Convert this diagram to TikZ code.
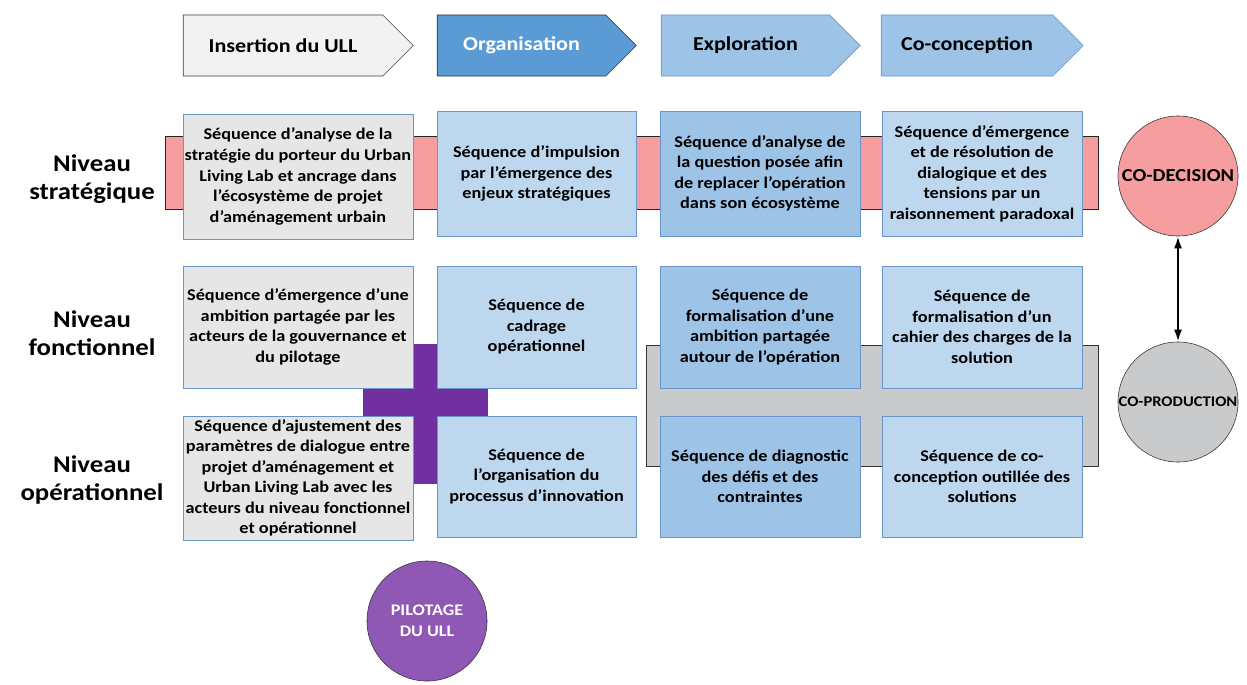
\documentclass[tikz,border=0pt]{standalone}
\usepackage{fontspec}
\setmainfont{Carlito}[FakeStretch=1.12]
\usepackage{xcolor}
\usetikzlibrary{shapes.symbols,arrows.meta}

\definecolor{phasegrey}{HTML}{F2F2F2}
\definecolor{phasedark}{HTML}{5B9BD5}
\definecolor{phaselight}{HTML}{9DC3E6}
\definecolor{boxgrey}{HTML}{E7E6E6}
\definecolor{boxlight}{HTML}{BDD7EE}
\definecolor{boxmid}{HTML}{9DC3E6}
\definecolor{boxline}{HTML}{6A95C8}
\definecolor{strategypink}{HTML}{F59D9F}
\definecolor{productiongrey}{HTML}{C9CACC}
\definecolor{pilotpurple}{HTML}{7030A0}
\definecolor{pilotcircle}{HTML}{8E58B4}

\begin{document}
\begin{tikzpicture}[
  x=0.025cm, y=-0.025cm,
  every node/.style={align=center, inner sep=2pt},
  phase/.style={
    signal,
    signal to=east,
    signal pointer angle=90,
    draw=black!75,
    fill=phasegrey,
    minimum height=1.525cm,
    font=\fontsize{14}{17}\selectfont\bfseries
  },
  seqbox/.style={
    rectangle,
    draw=boxline,
    fill=boxlight,
    inner sep=1pt,
    font=\fontsize{11.6}{14.6}\selectfont\bfseries
  },
  niveau/.style={font=\fontsize{17}{19.8}\selectfont\bfseries},
  pole/.style={circle, draw=black!80, minimum size=3cm, inner sep=0pt, font=\bfseries}
]
\useasboundingbox (0,0) rectangle (1247,684);

\draw[black!85, fill=strategypink] (165,136) rectangle (1098,209);
\draw[black!80, fill=productiongrey] (646,345) rectangle (1098,466);
\fill[pilotpurple] (363,344) rectangle (488,484);

\node[phase, minimum width=5.75cm] (insertion) at (283,45.5) {Insertion du ULL};
\node[phase, minimum width=4.975cm, fill=phasedark, draw=black!80, text=white] (organisation) at (521.5,45.5) {Organisation};
\node[phase, minimum width=4.975cm, fill=phaselight, draw=boxline] (exploration) at (745.5,45.5) {Exploration};
\node[phase, minimum width=5.05cm, fill=phaselight, draw=boxline] (coconception) at (967,45.5) {Co-conception};

\node[niveau] (nstrat) at (92,179) {Niveau\\stratégique};
\node[niveau] (nfonc) at (92,333) {Niveau\\fonctionnel};
\node[niveau] (nop) at (92,480) {Niveau\\opérationnel};

\node[seqbox, fill=boxgrey, minimum width=5.75cm, minimum height=3.125cm] (s1) at (298,176.5)
  {Séquence d’analyse de la\\stratégie du porteur du Urban\\Living Lab et ancrage dans\\l’écosystème de projet\\d’aménagement urbain};
\node[seqbox, minimum width=4.975cm, minimum height=3.125cm] (s2) at (536.5,173.5)
  {Séquence d’impulsion\\par l’émergence des\\enjeux stratégiques};
\node[seqbox, fill=boxmid, minimum width=5cm, minimum height=3.125cm] (s3) at (760,173.5)
  {Séquence d’analyse de\\la question posée afin\\de replacer l’opération\\dans son écosystème};
\node[seqbox, minimum width=5cm, minimum height=3.125cm] (s4) at (982,173.5)
  {Séquence d’émergence\\et de résolution de\\dialogique et des\\tensions par un\\raisonnement paradoxal};

\node[seqbox, fill=boxgrey, minimum width=5.75cm, minimum height=3.05cm] (f1) at (298,327)
  {Séquence d’émergence d’une\\ambition partagée par les\\acteurs de la gouvernance et\\du pilotage};
\node[seqbox, minimum width=4.975cm, minimum height=3.05cm] (f2) at (536.5,327)
  {Séquence de\\cadrage\\opérationnel};
\node[seqbox, fill=boxmid, minimum width=5cm, minimum height=3.05cm] (f3) at (760,327)
  {Séquence de\\formalisation d’une\\ambition partagée\\autour de l’opération};
\node[seqbox, minimum width=5cm, minimum height=3.05cm] (f4) at (982,327)
  {Séquence de\\formalisation d’un\\cahier des charges de la\\solution};

\node[seqbox, fill=boxgrey, minimum width=5.75cm, minimum height=3.1cm] (o1) at (298,478)
  {Séquence d’ajustement des\\paramètres de dialogue entre\\projet d’aménagement et\\Urban Living Lab avec les\\acteurs du niveau fonctionnel\\et opérationnel};
\node[seqbox, minimum width=4.975cm, minimum height=3.025cm] (o2) at (536.5,476.5)
  {Séquence de\\l’organisation du\\processus d’innovation};
\node[seqbox, fill=boxmid, minimum width=5cm, minimum height=3.025cm] (o3) at (760,476.5)
  {Séquence de diagnostic\\des défis et des\\contraintes};
\node[seqbox, minimum width=5cm, minimum height=3.025cm] (o4) at (982,476.5)
  {Séquence de co-\\conception outillée des\\solutions};

\node[pole, fill=strategypink, font=\fontsize{13}{16}\selectfont\bfseries] (codecision) at (1178,176) {CO-DECISION};
\node[pole, fill=productiongrey, font=\fontsize{10.5}{13}\selectfont\bfseries] (coproduction) at (1178,402) {CO-PRODUCTION};
\node[pole, fill=pilotcircle, text=white, font=\fontsize{11.5}{15}\selectfont\bfseries] (pilotage) at (427,621) {PILOTAGE\\DU ULL};

\draw[{Latex[length=3mm,width=2mm]}-{Latex[length=3mm,width=2mm]}, line width=1.5pt] (codecision) -- (coproduction);
\end{tikzpicture}
\end{document}
